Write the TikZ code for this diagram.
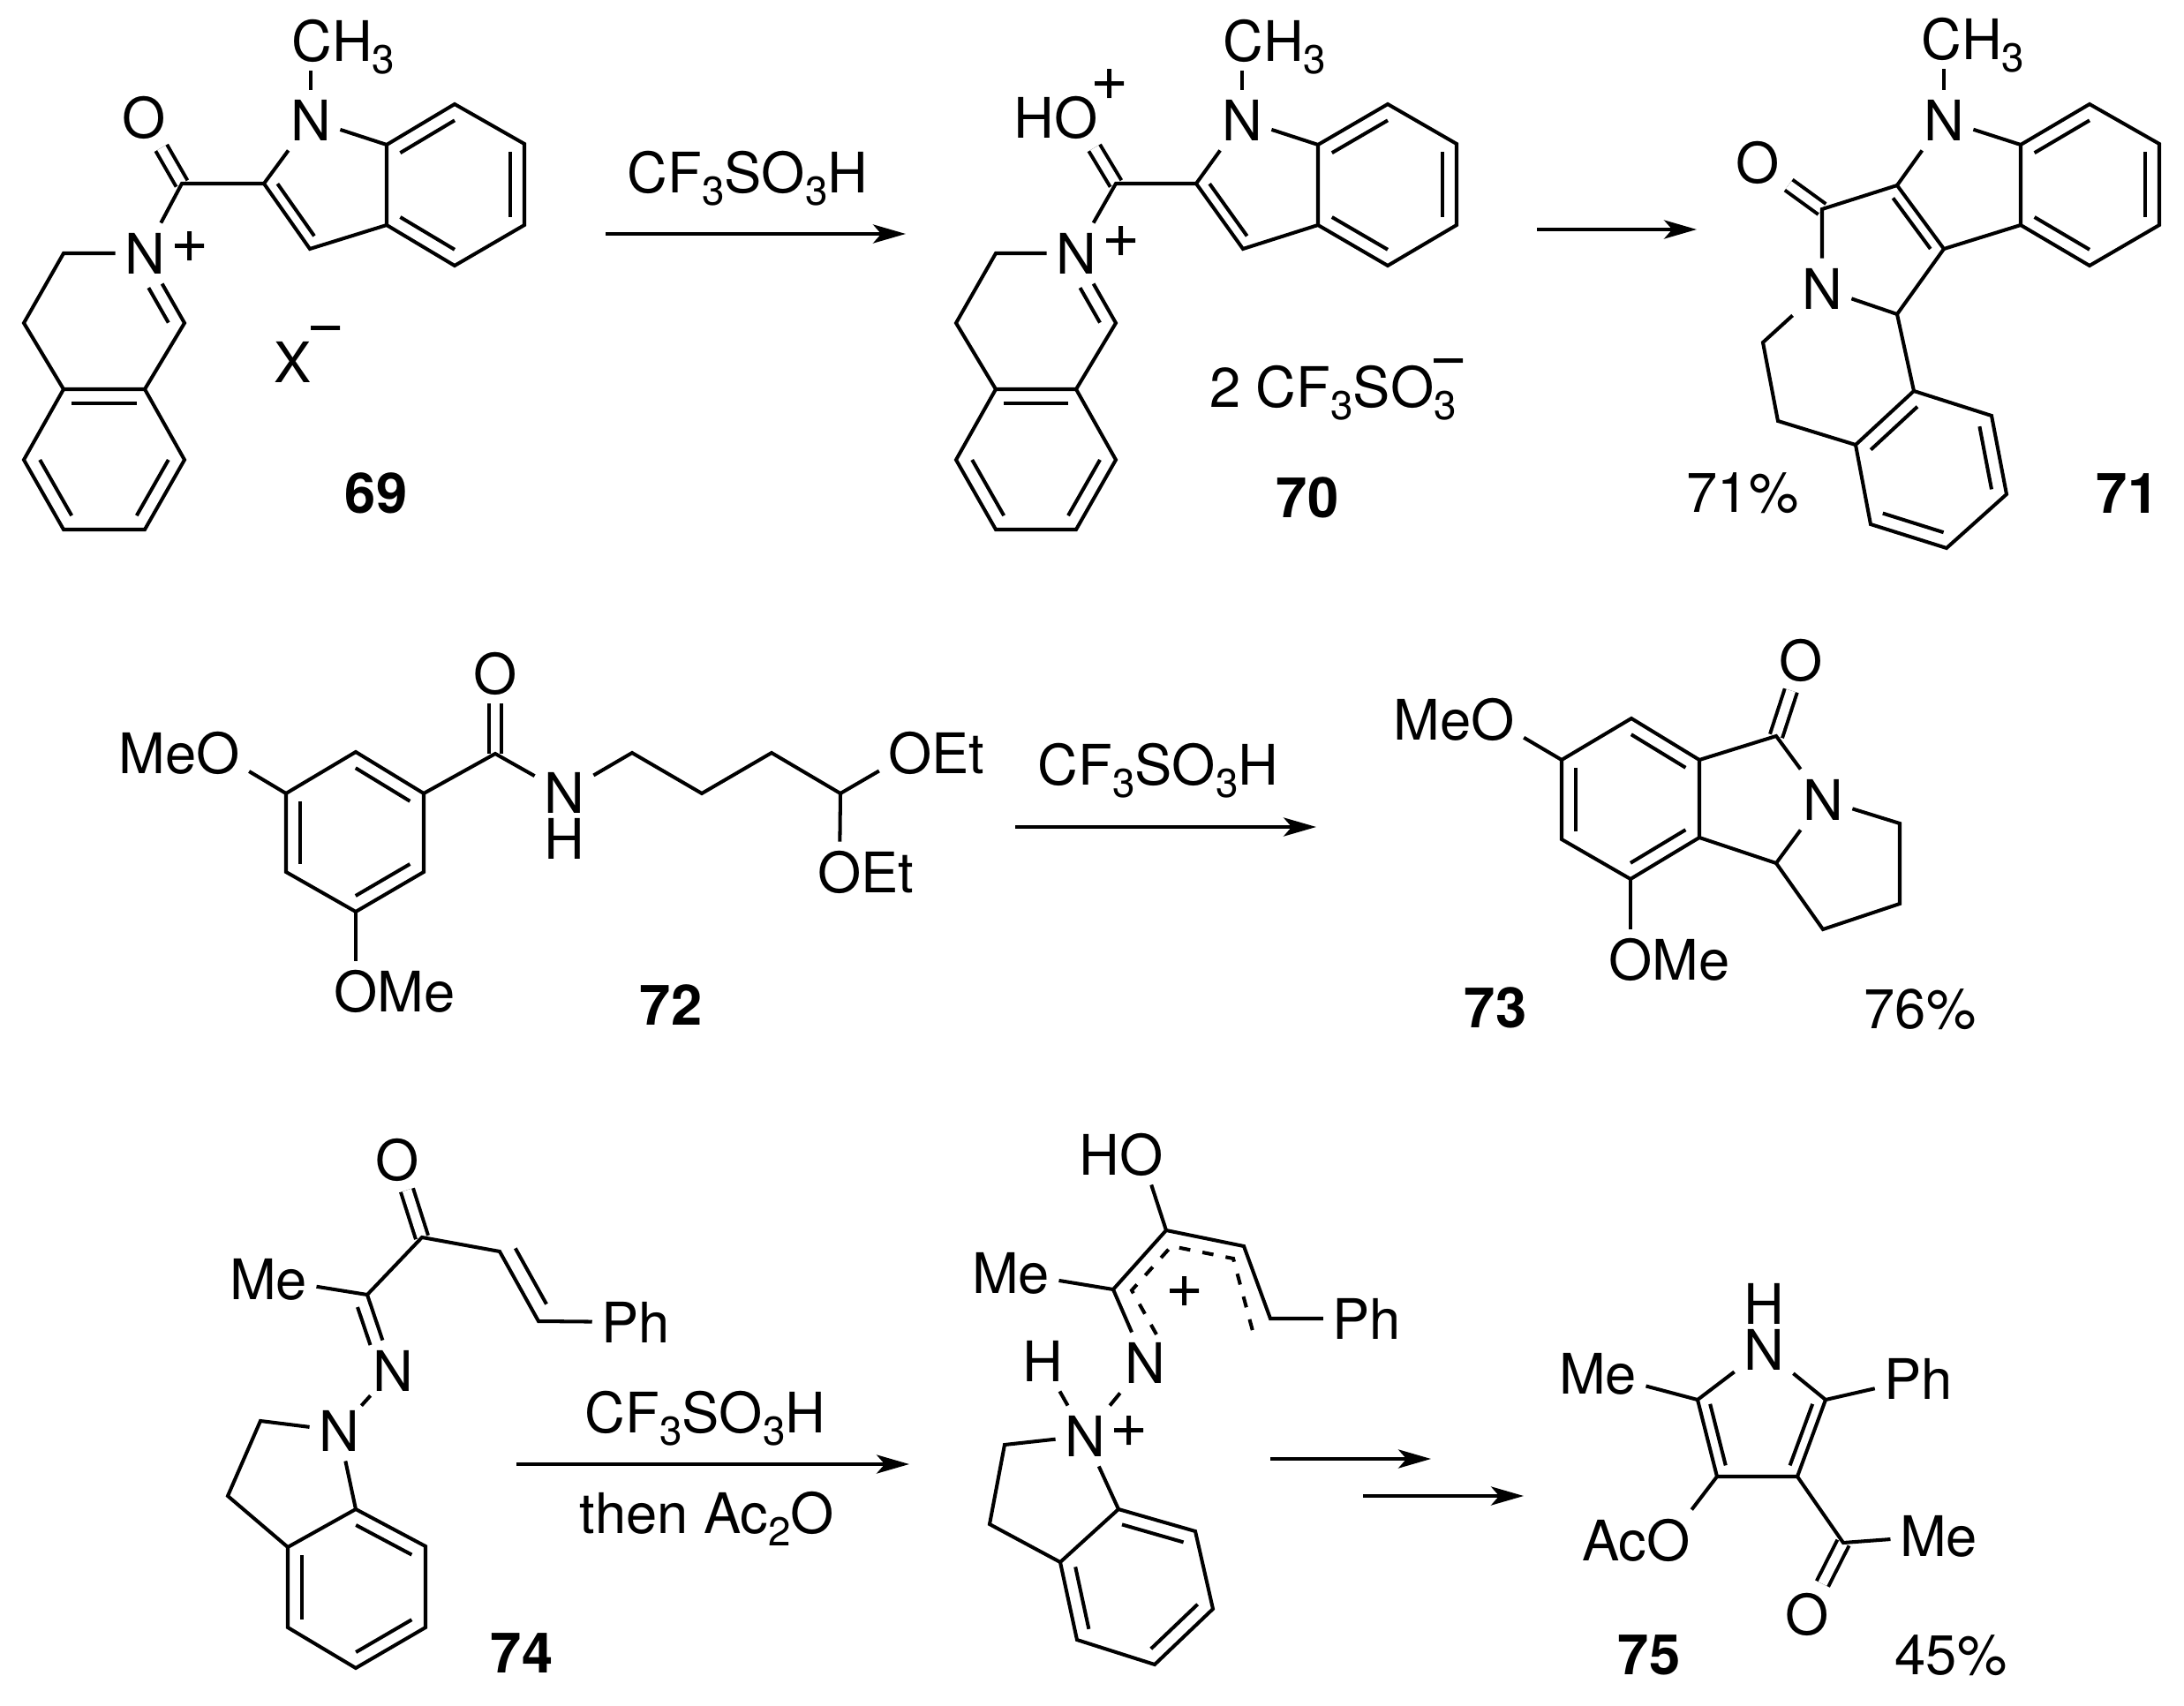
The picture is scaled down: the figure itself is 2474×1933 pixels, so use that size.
\documentclass[tikz,border=0pt]{standalone}
\usepackage{fontspec}
\setmainfont{TeX Gyre Heros}
\usetikzlibrary{arrows.meta,calc}

\newcommand{\sbs}[1]{\raisebox{-4pt}{\fontsize{13}{14}\selectfont #1}}
\newcommand{\inb}[3]{\draw[bond] ($(#1)!.2!(#3)$) -- ($(#2)!.2!(#3)$);}
\newcommand{\halfb}[3]{\draw[bond] ($(#1)!.2!(#3)$) -- ($(#1)!.2!(#3)+.5*(#2)-.5*(#1)$);}

\tikzset{
    atom/.style={inner sep=0pt,outer sep=3pt,text height=13.6pt,text depth=0pt,font=\fontsize{18}{20}\selectfont},
    lefttail/.style={atom,anchor=east,xshift=6pt},
    righttail/.style={atom,anchor=west,xshift=-6pt},
    cmpd/.style={atom,font=\fontsize{18}{20}\selectfont\bfseries},
    charge/.style={inner sep=0pt,font=\fontsize{21}{23}\selectfont},
    bond/.style={line width=1.15pt},
    dbl/.style={line width=1.15pt,double,double distance=3pt},
    rxn/.style={line width=1.15pt,-{Stealth[length=10.5pt,width=6pt,inset=2.6pt]}},
    deloc/.style={line width=1.15pt,dash pattern=on 3.6pt off 4pt}
}

\begin{document}
\begin{tikzpicture}[x=0.01cm,y=-0.01cm]
\useasboundingbox (0,0) rectangle (2474,1933);

% compound 69
\coordinate (a1) at (438,164); \coordinate (a2) at (515,118); \coordinate (a3) at (594,163);
\coordinate (a4) at (594,255); \coordinate (a5) at (515,301); \coordinate (a6) at (438,255);
\coordinate (a7) at (351,282); \coordinate (a8) at (299,208); \coordinate (a9) at (206,208);
\coordinate (a10) at (209,366); \coordinate (a11) at (164,441); \coordinate (a12) at (72,441);
\coordinate (a13) at (27,366); \coordinate (a14) at (72,287); \coordinate (a15) at (209,521);
\coordinate (a16) at (164,600); \coordinate (a17) at (72,600); \coordinate (a18) at (27,521);
\coordinate (ac) at (515,210); \coordinate (af) at (376,209); \coordinate (ad) at (118,521); \coordinate (ae) at (118,364);
\node[atom] (aCH) at (389,46) {CH\sbs{3}};
\node[atom] (aN) at (352,136) {N};
\node[atom] (aO) at (163,133) {O};
\node[atom] (aNp) at (164,287) {N};
\node[charge] (aP) at (215,280) {+};
\node[atom] (aX) at (332,410) {X};
\node[charge] (aM) at (369,380) {−};
\node[cmpd] (a69) at (426,558) {69};
\draw[dbl] (a9) -- (aO);
\draw[bond] (aN) -- (aCH.south -| aN);
\draw[bond] (a1) -- (a2) -- (a3) -- (a4) -- (a5) -- (a6) -- cycle;
\draw[bond] (aN) -- (a1);
\draw[bond] (a6) -- (a7) -- (a8) -- (aN);
\draw[bond] (a8) -- (a9) -- (aNp);
\draw[bond] (aNp) -- (a14) -- (a13) -- (a12);
\draw[bond] (aNp) -- (a10) -- (a11);
\draw[bond] (a12) -- (a11) -- (a15) -- (a16) -- (a17) -- (a18) -- cycle;
\inb{a1}{a2}{ac} \inb{a3}{a4}{ac} \inb{a5}{a6}{ac} \inb{a7}{a8}{af}
\inb{a11}{a12}{ad} \inb{a15}{a16}{ad} \inb{a17}{a18}{ad}
\halfb{a10}{aNp}{ae}

% first arrow
\coordinate (r1s) at (686,265); \coordinate (r1e) at (1026,265);
\draw[rxn] (r1s) -- (r1e);
\node[atom] (r1) at (847,195) {CF\sbs{3}SO\sbs{3}H};

% compound 70
\coordinate (b1) at (1493,164); \coordinate (b2) at (1572,118); \coordinate (b3) at (1650,163);
\coordinate (b4) at (1650,255); \coordinate (b5) at (1572,301); \coordinate (b6) at (1493,255);
\coordinate (b7) at (1408,282); \coordinate (b8) at (1355,208); \coordinate (b9) at (1264,208);
\coordinate (b10) at (1264,366); \coordinate (b11) at (1219,441); \coordinate (b12) at (1128,441);
\coordinate (b13) at (1083,366); \coordinate (b14) at (1128,287); \coordinate (b15) at (1264,521);
\coordinate (b16) at (1219,600); \coordinate (b17) at (1128,600); \coordinate (b18) at (1083,521);
\coordinate (bc) at (1572,210); \coordinate (bf) at (1431,209); \coordinate (bd) at (1174,521); \coordinate (be) at (1174,364);
\node[atom] (bCH) at (1444,46) {CH\sbs{3}};
\node[atom] (bN) at (1407,136) {N};
\node[atom] (bO) at (1219,133) {O};
\node[lefttail] (bH) at (bO.west) {H};
\node[charge] (bP) at (1257,96) {+};
\node[atom] (bNp) at (1219,287) {N};
\node[charge] (bQ) at (1270,274) {+};
\node[atom] (bTf) at (1510,438) {2 CF\sbs{3}SO\sbs{3}};
\node[charge] (bM) at (1641,417) {−};
\node[cmpd] (b70) at (1481,563) {70};
\draw[dbl] (b9) -- (bO);
\draw[bond] (bN) -- (bCH.south -| bN);
\draw[bond] (b1) -- (b2) -- (b3) -- (b4) -- (b5) -- (b6) -- cycle;
\draw[bond] (bN) -- (b1);
\draw[bond] (b6) -- (b7) -- (b8) -- (bN);
\draw[bond] (b8) -- (b9) -- (bNp);
\draw[bond] (bNp) -- (b14) -- (b13) -- (b12);
\draw[bond] (bNp) -- (b10) -- (b11);
\draw[bond] (b12) -- (b11) -- (b15) -- (b16) -- (b17) -- (b18) -- cycle;
\inb{b1}{b2}{bc} \inb{b3}{b4}{bc} \inb{b5}{b6}{bc} \inb{b7}{b8}{bf}
\inb{b11}{b12}{bd} \inb{b15}{b16}{bd} \inb{b17}{b18}{bd}
\halfb{b10}{bNp}{be}

% second arrow
\coordinate (r2s) at (1741,260); \coordinate (r2e) at (1922,260);
\draw[rxn] (r2s) -- (r2e);

% compound 71
\coordinate (c1) at (2289,164); \coordinate (c2) at (2367,118); \coordinate (c3) at (2446,163);
\coordinate (c4) at (2446,255); \coordinate (c5) at (2367,301); \coordinate (c6) at (2289,255);
\coordinate (c7) at (2202,282); \coordinate (c8) at (2149,210); \coordinate (c9) at (2064,237);
\coordinate (c10) at (2149,356); \coordinate (c11) at (1997,388); \coordinate (c12) at (2014,477);
\coordinate (c13) at (2102,504); \coordinate (c14) at (2168,443); \coordinate (c15) at (2256,471);
\coordinate (c16) at (2273,560); \coordinate (c17) at (2205,621); \coordinate (c18) at (2119,594);
\coordinate (cc) at (2367,210); \coordinate (cd) at (2188,532); \coordinate (ce) at (2126,282);
\node[atom] (cCH) at (2235,44) {CH\sbs{3}};
\node[atom] (cN) at (2202,136) {N};
\node[atom] (cO) at (1991,184) {O};
\node[atom] (cNb) at (2064,327) {N};
\node[atom] (cY) at (1974,557) {71\%};
\node[cmpd] (c71) at (2410,558) {71};
\draw[dbl] (c9) -- (cO);
\draw[bond] (cN) -- (cCH.south -| cN);
\draw[bond] (c1) -- (c2) -- (c3) -- (c4) -- (c5) -- (c6) -- cycle;
\draw[bond] (cN) -- (c1);
\draw[bond] (c6) -- (c7) -- (c8) -- (cN);
\draw[bond] (c8) -- (c9) -- (cNb);
\draw[bond] (c7) -- (c10) -- (cNb);
\draw[bond] (cNb) -- (c11) -- (c12) -- (c13);
\draw[bond] (c10) -- (c14);
\draw[bond] (c13) -- (c14) -- (c15) -- (c16) -- (c17) -- (c18) -- cycle;
\inb{c1}{c2}{cc} \inb{c3}{c4}{cc} \inb{c5}{c6}{cc} \inb{c7}{c8}{ce}
\inb{c13}{c14}{cd} \inb{c15}{c16}{cd} \inb{c17}{c18}{cd}

% compound 72
\coordinate (d1) at (324,899); \coordinate (d2) at (403,852); \coordinate (d3) at (480,899);
\coordinate (d4) at (480,988); \coordinate (d5) at (403,1033); \coordinate (d6) at (324,988);
\coordinate (d7) at (561,854); \coordinate (d8) at (716,853); \coordinate (d9) at (795,899);
\coordinate (d10) at (874,853); \coordinate (d11) at (952,899); \coordinate (dc) at (402,943);
\node[atom] (dOa) at (247,853) {O};
\node[lefttail] (dMa) at (dOa.west) {Me};
\node[atom] (dOb) at (403,1123) {O};
\node[righttail] (dMb) at (dOb.east) {Me};
\node[atom] (dO) at (561,763) {O};
\node[atom] (dN) at (639,898) {N};
\node[atom] (dH) at (639,950) {H};
\node[atom] (dOc) at (1031,853) {O};
\node[righttail] (dEa) at (dOc.east) {Et};
\node[atom] (dOd) at (951,988) {O};
\node[righttail] (dEb) at (dOd.east) {Et};
\node[cmpd] (d72) at (760,1138) {72};
\draw[dbl] (d7) -- (dO);
\draw[bond] (d1) -- (d2) -- (d3) -- (d4) -- (d5) -- (d6) -- cycle;
\draw[bond] (d1) -- (dOa);
\draw[bond] (d5) -- (dOb);
\draw[bond] (d3) -- (d7) -- (dN);
\draw[bond] (dN) -- (d8) -- (d9) -- (d10) -- (d11);
\draw[bond] (d11) -- (dOc);
\draw[bond] (d11) -- (dOd);
\inb{d2}{d3}{dc} \inb{d1}{d6}{dc} \inb{d5}{d4}{dc}

% third arrow
\coordinate (r3s) at (1150,937); \coordinate (r3e) at (1491,937);
\draw[rxn] (r3s) -- (r3e);
\node[atom] (r3) at (1312,866) {CF\sbs{3}SO\sbs{3}H};

% compound 73
\coordinate (e1) at (1769,861); \coordinate (e2) at (1848,814); \coordinate (e3) at (1925,861);
\coordinate (e4) at (1925,949); \coordinate (e5) at (1847,996); \coordinate (e6) at (1769,951);
\coordinate (e7) at (2012,834); \coordinate (e8) at (2012,978); \coordinate (e9) at (2065,1053);
\coordinate (e10) at (2152,1024); \coordinate (e11) at (2152,933); \coordinate (ec) at (1847,905);
\node[atom] (eOa) at (1691,815) {O};
\node[lefttail] (eMa) at (eOa.west) {Me};
\node[atom] (eOb) at (1847,1087) {O};
\node[righttail] (eMb) at (eOb.east) {Me};
\node[atom] (eO) at (2040,748) {O};
\node[atom] (eN) at (2065,906) {N};
\node[cmpd] (e73) at (1694,1141) {73};
\node[atom] (eY) at (2175,1142) {76\%};
\draw[dbl] (e7) -- (eO);
\draw[bond] (e1) -- (e2) -- (e3) -- (e4) -- (e5) -- (e6) -- cycle;
\draw[bond] (e1) -- (eOa);
\draw[bond] (e5) -- (eOb);
\draw[bond] (e3) -- (e7) -- (eN);
\draw[bond] (e4) -- (e8) -- (eN);
\draw[bond] (eN) -- (e11) -- (e10) -- (e9) -- (e8);
\inb{e2}{e3}{ec} \inb{e1}{e6}{ec} \inb{e5}{e4}{ec}

% compound 74
\coordinate (f1) at (403,1710); \coordinate (f2) at (482,1752); \coordinate (f3) at (482,1844);
\coordinate (f4) at (403,1890); \coordinate (f5) at (326,1844); \coordinate (f6) at (326,1753);
\coordinate (f7) at (258,1695); \coordinate (f8) at (295,1610); \coordinate (f9) at (416,1467);
\coordinate (f10) at (478,1402); \coordinate (f11) at (566,1418); \coordinate (f12) at (610,1497);
\coordinate (fc) at (404,1800); \coordinate (fd) at (361,1537); \coordinate (fe) at (655,1400);
\node[atom] (fO) at (450,1314) {O};
\node[atom] (fMe) at (304,1449) {Me};
\node[atom] (fPh) at (720,1498) {Ph};
\node[atom] (fNb) at (445,1553) {N};
\node[atom] (fNa) at (384,1621) {N};
\node[cmpd] (f74) at (591,1872) {74};
\draw[dbl] (f10) -- (fO);
\draw[bond] (f1) -- (f2) -- (f3) -- (f4) -- (f5) -- (f6) -- cycle;
\draw[bond] (fNa) -- (f1);
\draw[bond] (fNa) -- (f8) -- (f7) -- (f6);
\draw[bond,shorten <=-2pt,shorten >=-2pt] (fNa) -- (fNb);
\draw[bond] (fNb) -- (f9) -- (f10) -- (f11) -- (f12) -- (fPh);
\draw[bond] (f9) -- (fMe);
\inb{f1}{f2}{fc} \inb{f6}{f5}{fc} \inb{f4}{f3}{fc}
\inb{f11}{f12}{fe}
\halfb{f9}{fNb}{fd}

% fourth arrow
\coordinate (r4s) at (585,1659); \coordinate (r4e) at (1030,1659);
\draw[rxn] (r4s) -- (r4e);
\node[atom] (r4) at (799,1600) {CF\sbs{3}SO\sbs{3}H};
\node[atom] (r4b) at (801,1714) {then Ac\sbs{2}O};

% intermediate
\coordinate (g1) at (1267,1710); \coordinate (g2) at (1354,1735); \coordinate (g3) at (1374,1823);
\coordinate (g4) at (1308,1886); \coordinate (g5) at (1220,1858); \coordinate (g6) at (1201,1770);
\coordinate (g7) at (1121,1727); \coordinate (g8) at (1138,1637); \coordinate (g9) at (1261,1461);
\coordinate (g10) at (1321,1394); \coordinate (g11) at (1409,1412); \coordinate (g12) at (1439,1494);
\coordinate (gc) at (1287,1797);
\coordinate (w1) at (1310,1512); \coordinate (w2) at (1282,1462); \coordinate (w3) at (1327,1412);
\coordinate (w4) at (1397,1426); \coordinate (w5) at (1419,1508);
\node[atom] (gO) at (1293,1308) {O};
\node[lefttail] (gHa) at (gO.west) {H};
\node[atom] (gMe) at (1145,1442) {Me};
\node[atom] (gPh) at (1548,1494) {Ph};
\node[atom] (gNb) at (1297,1544) {N};
\node[atom] (gH) at (1181,1542) {H};
\node[atom] (gNa) at (1229,1627) {N};
\node[charge] (gP) at (1279,1622) {+};
\node[charge] (gQ) at (1342,1464) {+};
\draw[bond] (g1) -- (g2) -- (g3) -- (g4) -- (g5) -- (g6) -- cycle;
\draw[bond] (gNa) -- (g1);
\draw[bond] (gNa) -- (g8) -- (g7) -- (g6);
\draw[bond] (gNa) -- (gH);
\draw[bond] (gNa) -- (gNb);
\draw[bond] (gNb) -- (g9) -- (g10) -- (g11) -- (g12) -- (gPh);
\draw[bond] (g9) -- (gMe);
\draw[bond] (g10) -- (gO);
\draw[deloc] (w1) -- (w2) -- (w3) -- (w4) -- (w5);
\inb{g1}{g2}{gc} \inb{g3}{g4}{gc} \inb{g6}{g5}{gc}

% two arrows
\coordinate (r5s) at (1439,1653); \coordinate (r5e) at (1621,1653);
\coordinate (r6s) at (1544,1695); \coordinate (r6e) at (1726,1695);
\draw[rxn] (r5s) -- (r5e);
\draw[rxn] (r6s) -- (r6e);

% compound 75
\coordinate (h1) at (1923,1586); \coordinate (h2) at (1945,1673); \coordinate (h3) at (2036,1673);
\coordinate (h4) at (2068,1586); \coordinate (h5) at (2088,1748); \coordinate (hc) at (1994,1610);
\node[atom] (hH) at (1998,1477) {H};
\node[atom] (hN) at (1998,1529) {N};
\node[atom] (hMa) at (1810,1556) {Me};
\node[atom] (hPh) at (2173,1562) {Ph};
\node[atom] (hOa) at (1890,1745) {O};
\node[lefttail] (hAc) at (hOa.west) {Ac};
\node[atom] (hMb) at (2196,1740) {Me};
\node[atom] (hO) at (2047,1829) {O};
\node[cmpd] (h75) at (1868,1874) {75};
\node[atom] (hY) at (2210,1874) {45\%};
\draw[dbl] (h5) -- (hO);
\draw[bond] (hN) -- (h1) -- (h2) -- (h3) -- (h4) -- (hN);
\draw[bond] (h1) -- (hMa);
\draw[bond] (h4) -- (hPh);
\draw[bond] (h2) -- (hOa);
\draw[bond] (h3) -- (h5) -- (hMb);
\inb{h1}{h2}{hc} \inb{h4}{h3}{hc}
\end{tikzpicture}
\end{document}
